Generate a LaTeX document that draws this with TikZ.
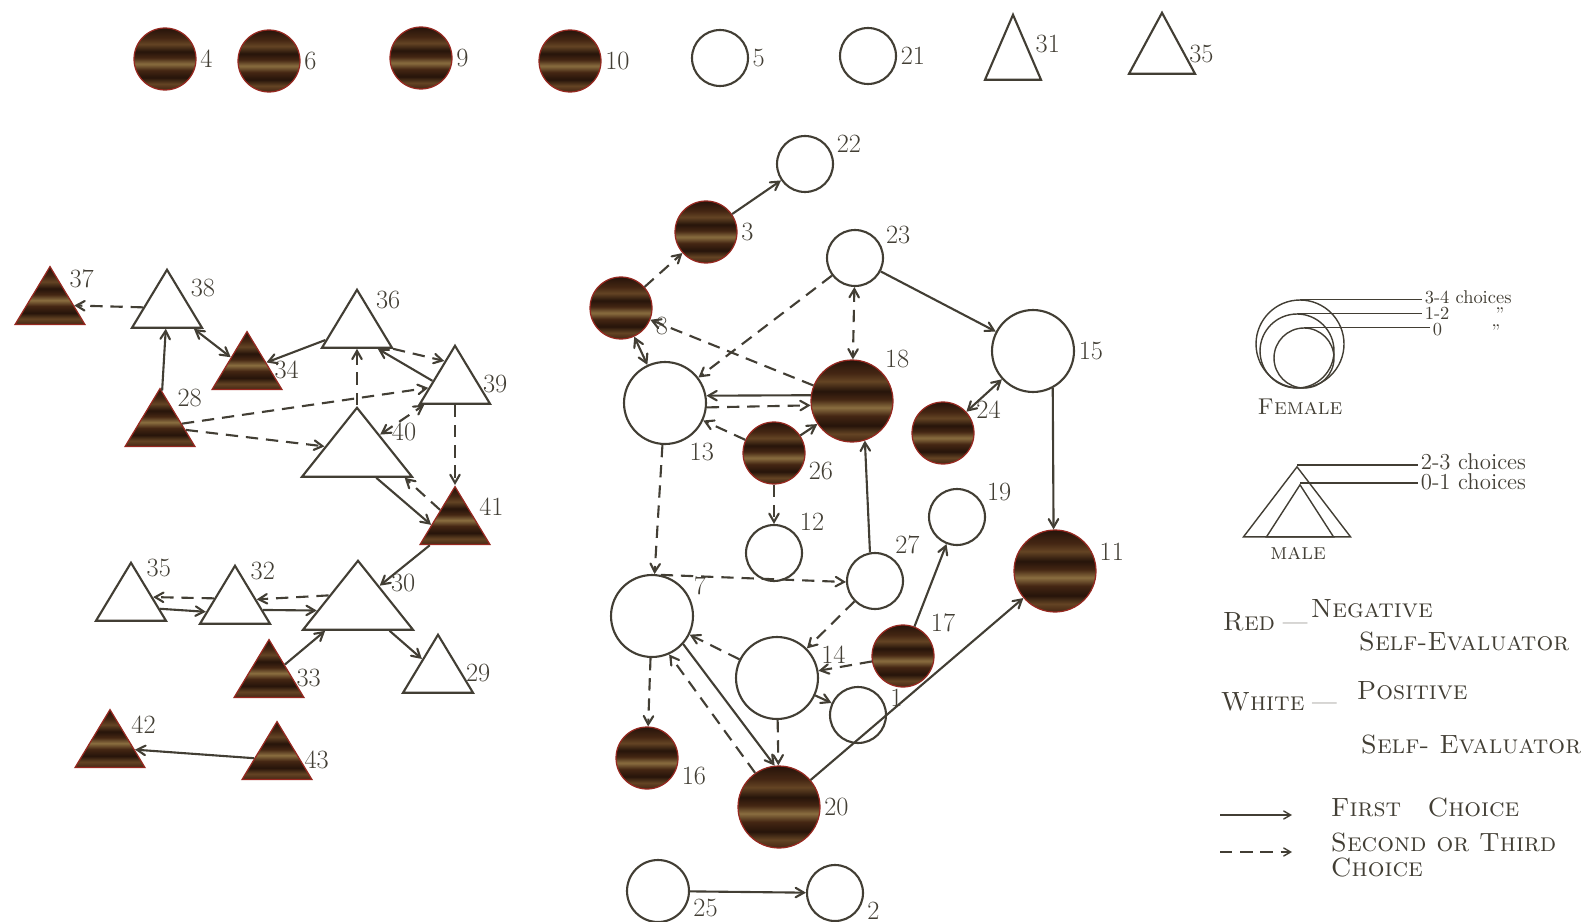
\documentclass[tikz,border=0pt]{standalone}
\usepackage{tikz}
\usetikzlibrary{arrows,shapes.geometric}
\definecolor{ink}{RGB}{66,62,52}
\definecolor{rim}{RGB}{150,40,32}
\definecolor{bark_deep}{RGB}{38,20,10}
\definecolor{bark_dark}{RGB}{68,38,19}
\definecolor{bark_mid}{RGB}{100,68,36}
\definecolor{bark_light}{RGB}{138,110,64}
\pgfdeclareverticalshading{bark}{100bp}{color(0bp)=(bark_dark); color(25bp)=(bark_dark);
  color(30bp)=(bark_mid); color(35bp)=(bark_deep); color(41bp)=(bark_dark);
  color(46bp)=(bark_light); color(51bp)=(bark_dark); color(56bp)=(bark_deep);
  color(62bp)=(bark_mid); color(67bp)=(bark_dark); color(75bp)=(bark_deep); color(100bp)=(bark_deep)}
\newcommand\lblfont{\fontsize{15}{18}\selectfont}
\newcommand\keyfont{\fontsize{15}{18}\selectfont}
\newcommand\notefont{\fontsize{13}{15}\selectfont}
\newcommand\smallnotefont{\fontsize{10.5}{12}\selectfont}

\begin{document}
\begin{tikzpicture}[x=0.02cm,y=-0.02cm,>=angle 60,line width=1.2pt,color=ink]
    \tikzstyle{girl}=[draw=ink,circle,inner sep=0pt,fill=white]
    \tikzstyle{boy}=[draw=ink,isosceles triangle,isosceles triangle stretches,shape border rotate=90,
                     inner sep=0pt,anchor=apex,fill=white,minimum width=1.4cm,minimum height=1.16cm]
    \tikzstyle{tbig}=[minimum width=2.2cm,minimum height=1.38cm]
    \tikzstyle{csmall}=[minimum size=1.12cm]
    \tikzstyle{cmid}=[minimum size=1.24cm]
    \tikzstyle{cbig}=[minimum size=1.64cm]
    \tikzstyle{neg}=[shading=bark,draw=rim,line width=0.7pt]
    \tikzstyle{choice1}=[->,draw=ink]
    \tikzstyle{choice2}=[->,draw=ink,dash pattern=on 7pt off 4.5pt]
    \tikzstyle{every label}=[font=\lblfont,text=ink,inner sep=1.5pt]
    \tikzstyle{keyline}=[line width=0.8pt]

    \useasboundingbox (0,0) rectangle (1591,922);

    % unchosen pupils along the top
    \node[girl,cmid,neg,label=0:4]     (g4)   at (165,59)  {};
    \node[girl,cmid,neg,label=0:6]     (g6)   at (269,61)  {};
    \node[girl,cmid,neg,label=0:9]     (g9)   at (421,58)  {};
    \node[girl,cmid,neg,label=0:10]    (g10)  at (570,61)  {};
    \node[girl,csmall,label=0:5]       (g5)   at (720,58)  {};
    \node[girl,csmall,label=0:21]      (g21)  at (868,56)  {};
    \node[boy,minimum width=1.12cm,minimum height=1.3cm,label=15:31] (b31)  at (1013,12) {};
    \node[boy,minimum width=1.32cm,minimum height=1.22cm,label=0:35] (b35a) at (1162,10) {};

    % boys
    \node[boy,neg,label=40:37]         (b37)  at (50,265)  {};
    \node[boy,label=20:38]             (b38)  at (167,267) {};
    \node[boy,label=45:36]             (b36)  at (357,287) {};
    \node[boy,neg,label=0:34]          (b34)  at (247,330) {};
    \node[boy,label=0:39]              (b39)  at (455,343) {};
    \node[boy,neg,label=50:28]         (b28)  at (160,387) {};
    \node[boy,tbig,label=10:40]        (b40)  at (357,405) {};
    \node[boy,neg,label=15:41]         (b41)  at (455,485) {};
    \node[boy,label=60:35]             (b35)  at (131,560) {};
    \node[boy,label=60:32]             (b32)  at (235,563) {};
    \node[boy,tbig,label=15:30]        (b30)  at (358,558) {};
    \node[boy,label=0:29]              (b29)  at (438,632) {};
    \node[boy,neg,label=0:33]          (b33)  at (269,638) {};
    \node[boy,neg,label=30:42]         (b42)  at (110,708) {};
    \node[boy,neg,label=0:43]          (b43)  at (277,720) {};

    % girls
    \node[girl,csmall,label=15:22]     (g22)  at (805,164) {};
    \node[girl,cmid,neg,label=0:3]     (g3)   at (706,232) {};
    \node[girl,csmall,label=20:23]     (g23)  at (855,258) {};
    \node[girl,cmid,neg,label=-10:8]   (g8)   at (621,308) {};
    \node[girl,cbig,label=0:15]        (g15)  at (1033,351) {};
    \node[girl,cbig,label=-60:13]      (g13)  at (665,403) {};
    \node[girl,cbig,neg,label=45:18]   (g18)  at (852,401) {};
    \node[girl,cmid,neg,label=-10:26]  (g26)  at (774,453) {};
    \node[girl,cmid,neg,label=20:24]   (g24)  at (943,433) {};
    \node[girl,csmall,label=25:19]     (g19)  at (957,517) {};
    \node[girl,csmall,label=40:12]     (g12)  at (774,553) {};
    \node[girl,csmall,label=55:27]     (g27)  at (875,581) {};
    \node[girl,cbig,neg,label=10:11]   (g11)  at (1055,571) {};
    \node[girl,cbig,label=25:7]        (g7)   at (652,616) {};
    \node[girl,cmid,neg,label=40:17]   (g17)  at (903,656) {};
    \node[girl,cbig,label=15:14]       (g14)  at (777,678) {};
    \node[girl,csmall,label=10:1]      (g1)   at (858,715) {};
    \node[girl,cmid,neg,label=-10:16]  (g16)  at (647,758) {};
    \node[girl,cbig,neg,label=0:20]    (g20)  at (779,807) {};
    \node[girl,cmid,label=-8:25]       (g25)  at (658,891) {};
    \node[girl,csmall,label=-10:2]     (g2)   at (835,893) {};

    \path
     (b38) edge[choice2] (b37)
     (b28) edge[choice1] (b38)
     (b38) edge[choice1,<->] (b34)
     (b36) edge[choice1] (b34)
     (b36.-30) edge[choice2] (b39.115)
     (b39.172) edge[choice1] (b36.-45)
     (b40) edge[choice2] (b36)
     (b28) edge[choice2] (b39)
     (b28) edge[choice2] (b40)
     (b40) edge[choice2,<->] (b39)
     (b39) edge[choice2] (b41)
     (b40.-55) edge[choice1] (b41.180)
     (b41.135) edge[choice2] (b40.-30)
     (b41) edge[choice1] (b30)
     (b35.-15) edge[choice1] (b32.195)
     (b32.165) edge[choice2] (b35.10)
     (b32.-12) edge[choice1] (b30.190)
     (b30.165) edge[choice2] (b32.12)
     (b33) edge[choice1] (b30)
     (b30) edge[choice1] (b29)
     (b43) edge[choice1] (b42);

    \path
     (g3) edge[choice1] (g22)
     (g8) edge[choice2] (g3)
     (g8) edge[choice1,<->] (g13)
     (g23) edge[choice2] (g13)
     (g18) edge[choice2] (g8)
     (g23) edge[choice2,<->] (g18)
     (g23) edge[choice1] (g15)
     (g18.172) edge[choice1] (g13.10)
     (g13.-6) edge[choice2] (g18.186)
     (g26) edge[choice2] (g13)
     (g26) edge[choice1] (g18)
     (g24) edge[choice1,<->] (g15)
     (g15.-62) edge[choice1] (g11.92)
     (g26) edge[choice2] (g12)
     (g27.100) edge[choice1] (g18.-72)
     (g13) edge[choice2] (g7)
     (g7.78) edge[choice2] (g27.182)
     (g27) edge[choice2] (g14)
     (g14) edge[choice2] (g7)
     (g17) edge[choice1] (g19)
     (g17) edge[choice2] (g14)
     (g14) edge[choice1] (g1)
     (g7) edge[choice2] (g16)
     (g7.-42) edge[choice1] (g20.96)
     (g20.125) edge[choice2] (g7.-66)
     (g14) edge[choice2] (g20)
     (g20) edge[choice1] (g11)
     (g25) edge[choice1] (g2);

    % key: sizes
    \node[girl,keyline,fill=none,minimum size=1.76cm] (kf3) at (1300,344) {};
    \node[girl,keyline,fill=none,minimum size=1.48cm] (kf2) at (1297,351) {};
    \node[girl,keyline,fill=none,minimum size=1.2cm]  (kf1) at (1304,358) {};
    \node[font=\smallnotefont,anchor=west,inner sep=1pt] (k34) at (1422,297) {3-4 choices};
    \node[font=\smallnotefont,anchor=west,inner sep=1pt] (k12) at (1422,313) {1-2};
    \node[font=\smallnotefont,anchor=west,inner sep=1pt] (k0)  at (1430,330) {0};
    \node[font=\smallnotefont,inner sep=1pt] (kd1) at (1500,314) {''};
    \node[font=\smallnotefont,inner sep=1pt] (kd2) at (1496,331) {''};
    \draw[keyline] (kf3.north) -- (kf3.north -| k34.west);
    \draw[keyline] (kf2.north) -- (kf2.north -| k12.west);
    \draw[keyline] (kf1.north) -- (kf1.north -| k0.west);
    \node[font=\notefont] (kfem) at (1300,407) {\textsc{Female}};

    \node[boy,keyline,fill=none,minimum width=2.14cm,minimum height=1.4cm]  (km2) at (1297,465) {};
    \node[boy,keyline,fill=none,minimum width=1.34cm,minimum height=1.04cm] (km1) at (1300,483) {};
    \node[font=\notefont,anchor=west,inner sep=1pt] (k23) at (1418,462) {2-3 choices};
    \node[font=\notefont,anchor=west,inner sep=1pt] (k01) at (1418,482) {0-1 choices};
    \draw[keyline] (km2.apex) -- (km2.apex -| k23.west);
    \draw[keyline] (km1.apex) -- (km1.apex -| k01.west);
    \node[font=\notefont] (kmale) at (1298,553) {\textsc{male}};

    % key: colours and arrows
    \node[font=\keyfont,anchor=west] (kred)   at (1216,622) {\textsc{Red} \textemdash};
    \node[font=\keyfont,anchor=west] (kneg)   at (1304,609) {\textsc{Negative}};
    \node[font=\keyfont,anchor=west] (kself1) at (1352,641) {\textsc{Self-Evaluator}};
    \node[font=\keyfont,anchor=west] (kwhite) at (1214,702) {\textsc{White} \textemdash};
    \node[font=\keyfont,anchor=west] (kpos)   at (1350,691) {\textsc{Positive}};
    \node[font=\keyfont,anchor=west] (kself2) at (1354,744) {\textsc{Self- Evaluator}};
    \coordinate (a1) at (1220,815);
    \coordinate (a2) at (1292,815);
    \coordinate (a3) at (1220,852);
    \coordinate (a4) at (1292,852);
    \draw[choice1,keyline] (a1) -- (a2);
    \draw[choice2,keyline] (a3) -- (a4);
    \node[font=\keyfont,anchor=west] (kfirst)  at (1324,807) {\textsc{First\quad Choice}};
    \node[font=\keyfont,anchor=west] (ksecond) at (1324,842) {\textsc{Second or Third}};
    \node[font=\keyfont,anchor=west] (kchoice) at (1324,867) {\textsc{Choice}};
\end{tikzpicture}
\end{document}
